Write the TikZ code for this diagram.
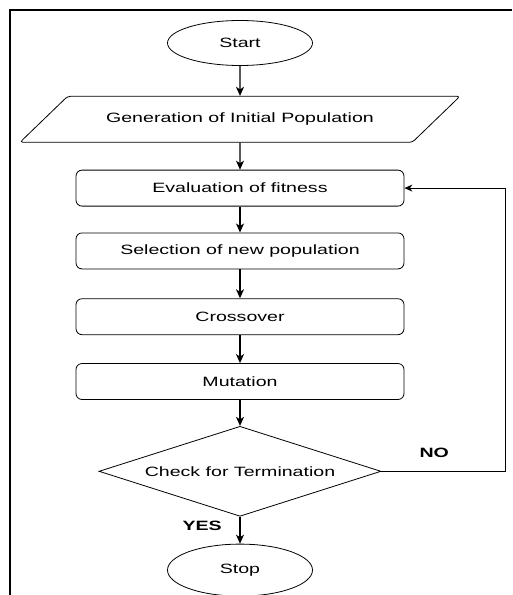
\documentclass[tikz,border=0pt]{standalone}
\usepackage{fontspec}
\setmainfont{Liberation Sans}[FakeStretch=1.45]
\usetikzlibrary{arrows.meta,positioning,shapes.geometric,calc}

\begin{document}
\begin{tikzpicture}[
  node distance=26pt,
  box/.style={draw,rounded corners=6pt,minimum width=328pt,minimum height=36pt,align=center,font=\fontsize{13.5}{15}\selectfont,line width=0.8pt},
  term/.style={box,ellipse,rounded corners=0pt,minimum width=145pt,minimum height=45pt},
  io/.style={box,trapezium,trapezium left angle=22,trapezium right angle=158,trapezium stretches body=true,minimum width=440pt,minimum height=46pt,rounded corners=3pt},
  test/.style={box,diamond,rounded corners=0pt,aspect=3.1,inner sep=0pt,minimum width=282pt,minimum height=90pt},
  arr/.style={-{Stealth[length=9pt,width=8pt,inset=2.5pt]},line width=1.4pt},
  back/.style={-{Stealth[length=8pt,width=7pt,inset=2.5pt]},line width=0.9pt},
  lab/.style={font=\bfseries\fontsize{13.5}{15}\selectfont,inner sep=0pt}]
  \useasboundingbox (0,0) rectangle (512pt,595pt);
  % frame
  \draw[line width=1.8pt] (512pt,585pt) -- (10pt,585pt) -- (10pt,0);
  \node[term] (start) at (240pt,552pt) {Start};
  \node[io,below=30pt of start] (gen) {Generation of Initial Population};
  \node[box,below=27pt of gen] (eval) {Evaluation of fitness};
  \node[box,below=26pt of eval] (sel) {Selection of new population};
  \node[box,below=29pt of sel] (cross) {Crossover};
  \node[box,below=28pt of cross] (mut) {Mutation};
  \node[test,below=26pt of mut] (check) {Check for Termination};
  \node[term,below=27pt of check,minimum height=52pt] (stop) {Stop};
  \coordinate (loop) at ($(check.east)+(124pt,0)$);
  \node[lab,above right=13pt and 38pt of check.east] (no) {NO};
  \node[lab,below left=4pt and 18pt of check.south] (yes) {YES};
  \draw[arr] (start) -- (gen);
  \draw[arr] (gen) -- (eval);
  \draw[arr] (eval) -- (sel);
  \draw[arr] (sel) -- (cross);
  \draw[arr] (cross) -- (mut);
  \draw[arr] (mut) -- (check);
  \draw[arr] (check) -- (stop);
  \draw[back] (check.east) -- (loop) |- (eval.east);
\end{tikzpicture}
\end{document}
